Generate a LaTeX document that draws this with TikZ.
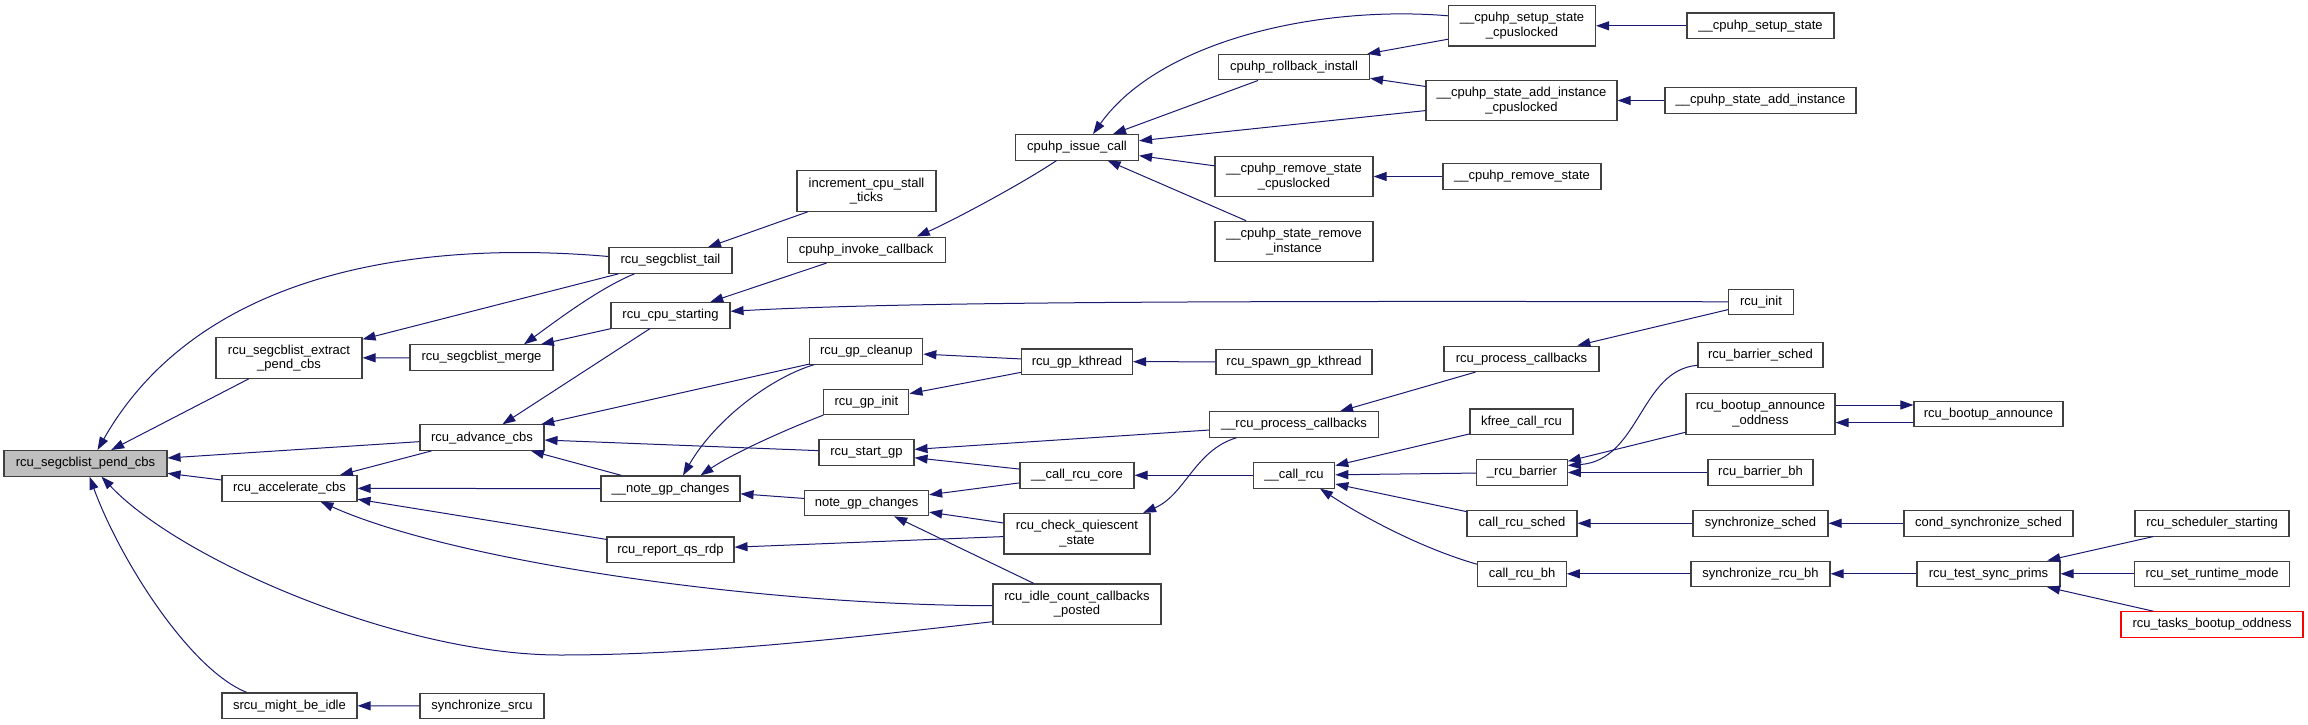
\documentclass[tikz,border=0pt]{standalone}
\usepackage{fontspec}
\setmainfont{Liberation Sans}
\usetikzlibrary{arrows.meta}
\definecolor{edgec}{HTML}{191970}
\definecolor{boxc}{HTML}{404040}
\definecolor{pendfill}{HTML}{BFBFBF}
\definecolor{redb}{HTML}{FF0000}
\tikzset{
  nd/.style={draw=boxc, line width=1.1pt, fill=white, inner sep=0pt, align=center,
    font=\fontsize{13}{14.7}\selectfont},
  n1/.style={nd, minimum height=25.5pt},
  n2/.style={nd, minimum height=40.5pt},
  ed/.style={draw=edgec, line width=1pt, -{Triangle[length=13pt,width=9pt]}}
}
\begin{document}
\begin{tikzpicture}[x=1pt,y=-1pt]
\useasboundingbox (0,0) rectangle (2308,725);
% nodes
\node[n1, minimum width=163pt, fill=pendfill] (pend) at (85.5,463.3) {rcu\_segcblist\_pend\_cbs};
\node[n2, minimum width=146pt] (extract) at (289,358) {rcu\_segcblist\_extract\\\_pend\_cbs};
\node[n1, minimum width=135pt] (accel) at (289.5,488.3) {rcu\_accelerate\_cbs};
\node[n1, minimum width=135pt] (srcuidle) at (289.5,705.7) {srcu\_might\_be\_idle};
\node[n1, minimum width=143pt] (merge) at (481.5,357.6) {rcu\_segcblist\_merge};
\node[n1, minimum width=124pt] (advance) at (482,437.6) {rcu\_advance\_cbs};
\node[n1, minimum width=124pt] (syncsrcu) at (482,706) {synchronize\_srcu};
\node[n1, minimum width=123pt] (tail) at (670.5,260.5) {rcu\_segcblist\_tail};
\node[n1, minimum width=119pt] (cpustart) at (670.5,315.3) {rcu\_cpu\_starting};
\node[n1, minimum width=139pt] (notegpi) at (670.5,488.7) {\_\_note\_gp\_changes};
\node[n1, minimum width=127pt] (reportqs) at (670.5,549.7) {rcu\_report\_qs\_rdp};
\node[n2, minimum width=139pt] (incr) at (866.5,191) {increment\_cpu\_stall\\\_ticks};
\node[n1, minimum width=158pt] (invoke) at (866.2,249.8) {cpuhp\_invoke\_callback};
\node[n1, minimum width=113pt] (gpcleanup) at (866.3,351.3) {rcu\_gp\_cleanup};
\node[n1, minimum width=85pt] (gpinit) at (866.4,401.8) {rcu\_gp\_init};
\node[n1, minimum width=95pt] (startgp) at (866.5,452.5) {rcu\_start\_gp};
\node[n1, minimum width=124pt] (notegp) at (866.6,503) {note\_gp\_changes};
\node[n1, minimum width=123pt] (issue) at (1077,147.3) {cpuhp\_issue\_call};
\node[n1, minimum width=111pt] (kthread) at (1077,361.7) {rcu\_gp\_kthread};
\node[n1, minimum width=114pt] (callcore) at (1077,475.3) {\_\_call\_rcu\_core};
\node[n2, minimum width=146pt] (checkqs) at (1077,533.7) {rcu\_check\_quiescent\\\_state};
\node[n2, minimum width=168pt] (idlecount) at (1077,604.2) {rcu\_idle\_count\_callbacks\\\_posted};
\node[n1, minimum width=151pt] (rollback) at (1294,67.2) {cpuhp\_rollback\_install};
\node[n2, minimum width=158pt] (removecpus) at (1294,176.5) {\_\_cpuhp\_remove\_state\\\_cpuslocked};
\node[n2, minimum width=158pt] (removeinst) at (1294,241.5) {\_\_cpuhp\_state\_remove\\\_instance};
\node[n1, minimum width=156pt] (spawn) at (1294,361.8) {rcu\_spawn\_gp\_kthread};
\node[n1, minimum width=169pt] (rpcint) at (1294,424.5) {\_\_rcu\_process\_callbacks};
\node[n1, minimum width=81.5pt] (callrcu) at (1294,475.3) {\_\_call\_rcu};
\node[n2, minimum width=147pt] (setupcpus) at (1522,25.8) {\_\_cpuhp\_setup\_state\\\_cpuslocked};
\node[n2, minimum width=191pt] (addcpus) at (1521.5,100.5) {\_\_cpuhp\_state\_add\_instance\\\_cpuslocked};
\node[n1, minimum width=158pt] (removestate) at (1522,176.5) {\_\_cpuhp\_remove\_state};
\node[n1, minimum width=155pt] (rpc) at (1521.5,358.8) {rcu\_process\_callbacks};
\node[n1, minimum width=103pt] (kfree) at (1521.5,421.7) {kfree\_call\_rcu};
\node[n1, minimum width=90.5pt] (barrier) at (1522,472.5) {\_rcu\_barrier};
\node[n1, minimum width=110pt] (callsched) at (1522,523.3) {call\_rcu\_sched};
\node[n1, minimum width=88.4pt] (callbh) at (1522,573.8) {call\_rcu\_bh};
\node[n1, minimum width=147pt] (setupstate) at (1760.5,25.8) {\_\_cpuhp\_setup\_state};
\node[n1, minimum width=191pt] (addinst) at (1760.5,100.5) {\_\_cpuhp\_state\_add\_instance};
\node[n1, minimum width=64.4pt] (rcuinit) at (1761,301.8) {rcu\_init};
\node[n1, minimum width=125pt] (barriersched) at (1760.5,355) {rcu\_barrier\_sched};
\node[n2, minimum width=149pt] (oddness) at (1760.5,413.8) {rcu\_bootup\_announce\\\_oddness};
\node[n1, minimum width=105pt] (barrierbh) at (1760.5,472.5) {rcu\_barrier\_bh};
\node[n1, minimum width=135pt] (syncsched) at (1760.5,523.3) {synchronize\_sched};
\node[n1, minimum width=139pt] (syncbh) at (1760.5,573.8) {synchronize\_rcu\_bh};
\node[n1, minimum width=149pt] (announce) at (1988.5,413.8) {rcu\_bootup\_announce};
\node[n1, minimum width=169pt] (condsync) at (1988.5,523.3) {cond\_synchronize\_sched};
\node[n1, minimum width=143pt] (testsync) at (1988.5,573.8) {rcu\_test\_sync\_prims};
\node[n1, minimum width=154pt] (schedstart) at (2212,523.3) {rcu\_scheduler\_starting};
\node[n1, minimum width=155pt] (runtime) at (2212,573.8) {rcu\_set\_runtime\_mode};
\node[n1, minimum width=182pt, draw=redb] (tasksodd) at (2212,624.5) {rcu\_tasks\_bootup\_oddness};
% straight edges
\draw[ed] (extract) -- (pend);
\draw[ed] (advance) -- (pend);
\draw[ed] (accel) -- (pend);
\draw[ed] (tail) -- (extract);
\draw[ed] (merge) -- (extract);
\draw[ed] (cpustart) -- (merge);
\draw[ed] (cpustart) -- (advance);
\draw[ed] (gpcleanup) -- (advance);
\draw[ed] (startgp) -- (advance);
\draw[ed] (notegpi) -- (advance);
\draw[ed] (advance) -- (accel);
\draw[ed] (notegpi) -- (accel);
\draw[ed] (reportqs) -- (accel);
\draw[ed] (syncsrcu) -- (srcuidle);
\draw[ed] (incr) -- (tail);
\draw[ed] (invoke) -- (cpustart);
\draw[ed] (notegp) -- (notegpi);
\draw[ed] (checkqs) -- (reportqs);
\draw[ed] (kthread) -- (gpcleanup);
\draw[ed] (kthread) -- (gpinit);
\draw[ed] (rpcint) -- (startgp);
\draw[ed] (callcore) -- (startgp);
\draw[ed] (callcore) -- (notegp);
\draw[ed] (checkqs) -- (notegp);
\draw[ed] (idlecount) -- (notegp);
\draw[ed] (rollback) -- (issue);
\draw[ed] (addcpus) -- (issue);
\draw[ed] (removecpus) -- (issue);
\draw[ed] (removeinst) -- (issue);
\draw[ed] (spawn) -- (kthread);
\draw[ed] (callrcu) -- (callcore);
\draw[ed] (setupcpus) -- (rollback);
\draw[ed] (addcpus) -- (rollback);
\draw[ed] (removestate) -- (removecpus);
\draw[ed] (rpc) -- (rpcint);
\draw[ed] (kfree) -- (callrcu);
\draw[ed] (barrier) -- (callrcu);
\draw[ed] (callsched) -- (callrcu);
\draw[ed] (setupstate) -- (setupcpus);
\draw[ed] (addinst) -- (addcpus);
\draw[ed] (rcuinit) -- (rpc);
\draw[ed] (oddness) -- (barrier);
\draw[ed] (barrierbh) -- (barrier);
\draw[ed] (syncsched) -- (callsched);
\draw[ed] (syncbh) -- (callbh);
\draw[ed] ([yshift=8.8pt]oddness.east) -- ([yshift=8.8pt]announce.west);
\draw[ed] ([yshift=-8.8pt]announce.west) -- ([yshift=-8.8pt]oddness.east);
\draw[ed] (condsync) -- (syncsched);
\draw[ed] (testsync) -- (syncbh);
\draw[ed] (schedstart) -- (testsync);
\draw[ed] (runtime) -- (testsync);
\draw[ed] (tasksodd) -- (testsync);
% curved edges
\draw[ed] ([yshift=4pt]tail.west) .. controls (420,240) and (200,270) .. ([xshift=12pt]pend.north);
\draw[ed] ([xshift=26pt]tail.south west) .. controls (600,288) and (560,318) .. ([xshift=42.5pt]merge.north);
\draw[ed] ([xshift=5pt]gpcleanup.south west) .. controls (770,378) and (715,420) .. ([xshift=12.5pt]notegpi.north);
\draw[ed] (gpinit.south west) .. controls (790,428) and (735,452) .. ([xshift=30pt]notegpi.north);
\draw[ed] ([xshift=-20.5pt]issue.south) .. controls (1020,185) and (950,222) .. ([xshift=50.6pt]invoke.north);
\draw[ed] ([yshift=10pt]setupcpus.west) .. controls (1320,5) and (1160,40) .. ([xshift=16pt]issue.north);
\draw[ed] (rcuinit.west) .. controls (1200,300.7) and (900,302) .. ([yshift=4pt]cpustart.east);
\draw[ed] ([yshift=9.5pt]callbh.west) .. controls (1420,548) and (1360,515) .. ([xshift=26pt]callrcu.south);
\draw[ed] ([xshift=27.5pt]rpcint.south west) .. controls (1195,450) and (1185,495) .. ([xshift=-7.5pt]checkqs.north east);
\draw[ed] ([yshift=3pt]barriersched.south west) .. controls (1640,370) and (1640,460) .. ([yshift=7pt]barrier.east);
\draw[ed] ([xshift=-42.7pt]srcuidle.north) .. controls (190,670) and (120,560) .. ([xshift=4pt]pend.south);
\draw[ed] ([yshift=-17.5pt]idlecount.west) .. controls (850,638) and (700,655) .. (560,655) .. controls (400,655) and (180,560) .. ([xshift=16pt]pend.south);
\draw[ed] ([yshift=-1.5pt]idlecount.west) .. controls (750,605) and (450,560) .. ([xshift=31pt]accel.south);
\end{tikzpicture}
\end{document}
